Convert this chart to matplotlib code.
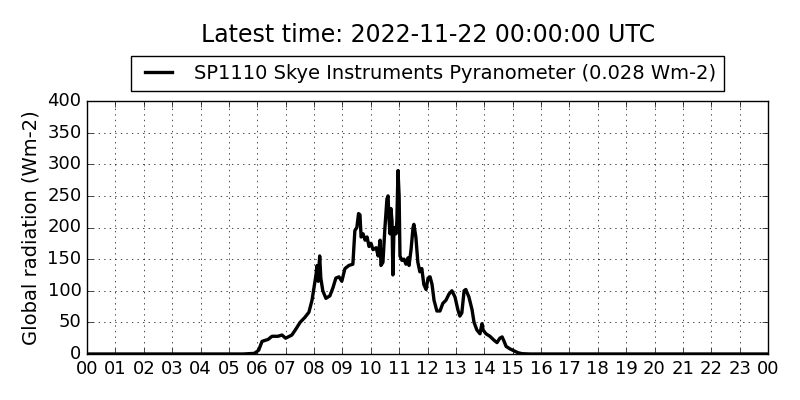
import matplotlib
matplotlib.use('Agg')
import matplotlib.pyplot as plt

# hours since midnight and global radiation (Wm-2)
hours = [0.0, 5.5, 5.9, 6.05, 6.17, 6.38, 6.52, 6.73, 6.87, 7.0, 7.22, 7.37, 7.51,
         7.68, 7.82, 7.93, 8.0, 8.07, 8.11, 8.15, 8.2, 8.24, 8.31, 8.42, 8.56,
         8.67, 8.77, 8.88, 8.98, 9.09, 9.23, 9.37, 9.44, 9.51, 9.57, 9.62, 9.66,
         9.73, 9.8, 9.87, 9.94, 10.01, 10.08, 10.19, 10.26, 10.33, 10.36, 10.43,
         10.5, 10.57, 10.61, 10.64, 10.68, 10.71, 10.75, 10.78, 10.82, 10.89,
         10.92, 10.96, 11.0, 11.03, 11.1, 11.17, 11.24, 11.31, 11.35, 11.42,
         11.49, 11.52, 11.59, 11.66, 11.73, 11.8, 11.87, 11.95, 12.02, 12.09,
         12.16, 12.23, 12.33, 12.44, 12.54, 12.65, 12.76, 12.86, 12.97, 13.07,
         13.14, 13.21, 13.29, 13.35, 13.46, 13.57, 13.64, 13.74, 13.85, 13.92,
         13.96, 14.06, 14.2, 14.34, 14.45, 14.55, 14.63, 14.7, 14.77, 14.91,
         15.05, 15.19, 15.33, 15.61, 24.0]
radiation = [0, 0, 1, 6, 20, 23, 28, 28, 30, 25, 30, 40, 50,
             58, 66, 85, 105, 125, 140, 115, 155, 120, 100, 88, 92,
             105, 120, 122, 115, 135, 140, 142, 195, 200, 222, 220, 185,
             190, 180, 185, 170, 175, 165, 168, 155, 180, 140, 145,
             200, 245, 250, 215, 190, 230, 210, 125, 200, 190,
             210, 290, 250, 155, 148, 150, 142, 152, 140, 165,
             200, 205, 185, 145, 130, 135, 110, 102, 120, 122,
             110, 85, 68, 68, 80, 85, 95, 100, 90, 70,
             60, 65, 100, 102, 90, 70, 50, 38, 32, 48,
             38, 32, 28, 22, 18, 25, 27, 20, 12, 8,
             5, 2, 0.5, 0, 0]

tick_hours = list(range(25))
tick_labels = ['%02d' % (h % 24) for h in tick_hours]

plt.style.use('classic')
fig = plt.figure(figsize=(8, 4), dpi=100)
fig.patch.set_facecolor('white')
ax = fig.add_axes([0.10875, 0.115, 0.85125, 0.6325])

ax.plot(hours, radiation, color='black', linewidth=2.4,
        label='SP1110 Skye Instruments Pyranometer (0.028 Wm-2)')

ax.set_xlim(0, 24)
ax.set_ylim(0, 400)
ax.set_yticks(range(0, 401, 50))
ax.set_xticks(tick_hours)
ax.set_xticklabels(tick_labels)
ax.tick_params(labelsize=13)
ax.grid(True)
ax.set_ylabel('Global radiation (Wm-2)', fontsize=14)

ax.legend(loc='lower center', bbox_to_anchor=(0.5, 1.04), fontsize=14,
          handlelength=2, borderaxespad=0, fancybox=False)
fig.text(0.535, 0.912, 'Latest time: 2022-11-22 00:00:00 UTC', ha='center',
         va='center', fontsize=17)

fig.savefig('out.png', dpi=100, facecolor='white')
